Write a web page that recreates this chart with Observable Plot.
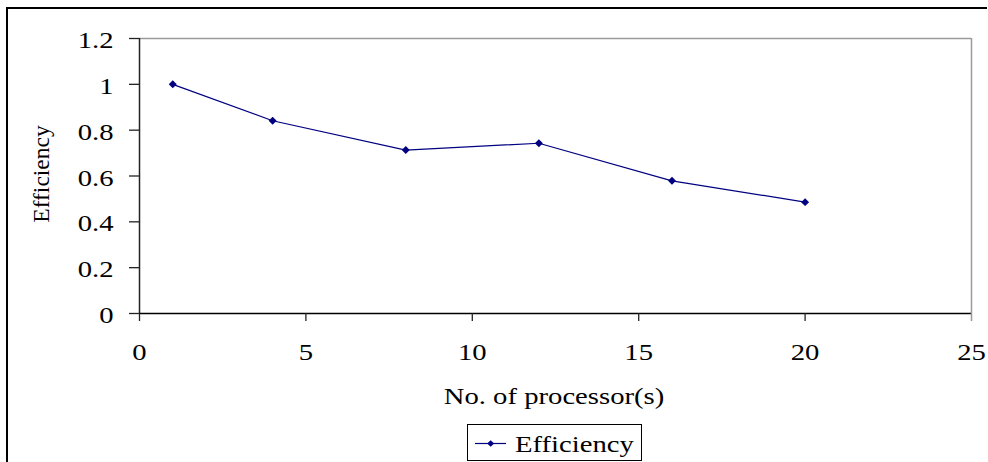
<!DOCTYPE html>
<html>
<head>
<meta charset="utf-8">
<script src="https://cdn.jsdelivr.net/npm/d3@7"></script>
<script src="https://cdn.jsdelivr.net/npm/@observablehq/plot@0.6"></script>
<style>
html, body { margin: 0; padding: 0; background: #fff; }
#wrap { position: relative; width: 988px; height: 462px; overflow: hidden; font-family: "Liberation Serif", "Times New Roman", serif; }
#chart { position: absolute; left: 0; top: 0; }
#outer { position: absolute; left: 6px; top: 7px; width: 979px; height: 470px; border-top: 2px solid #000; border-left: 2px solid #000; pointer-events: none; }
#legend { position: absolute; left: 467px; top: 424px; width: 175px; height: 37px; border: 1px solid #000; box-sizing: border-box; background: #fff; }
#legend svg { position: absolute; left: 0; top: 0; }
#legend span { position: absolute; left: 47px; top: 7.5px; font-size: 23.5px; line-height: 1; color: #000; transform: scaleX(1.22); transform-origin: left center; white-space: nowrap; }
</style>
</head>
<body>
<div id="wrap"><div id="chart"></div><div id="legend"></div><div id="outer"></div></div>
<script>
// ---- data ----
const processors = [1, 4, 8, 12, 16, 20];
const efficiency = [1, 0.841, 0.713, 0.743, 0.579, 0.486];
const xTicks = [0, 5, 10, 15, 20, 25];
const yTicks = [0, 0.2, 0.4, 0.6, 0.8, 1, 1.2];
const xTitle = "No. of processor(s)";
const yTitle = "Efficiency";
const seriesName = "Efficiency";

const navy = "#000080";
const data = processors.map((p, i) => ({p, e: efficiency[i]}));
const fmt = d => String(Math.round(d * 10) / 10);

const chart = Plot.plot({
  width: 988,
  height: 415,
  marginLeft: 139,
  marginRight: 17,
  marginTop: 38,
  marginBottom: 102,
  style: {fontFamily: '"Liberation Serif", "Times New Roman", serif', fontSize: "23.5px", background: "transparent", color: "#000", overflow: "visible"},
  x: {domain: [xTicks[0], xTicks[xTicks.length - 1]]},
  y: {domain: [yTicks[0], yTicks[yTicks.length - 1]]},
  marks: [
    Plot.ruleY([yTicks[yTicks.length - 1]], {stroke: "#9a9a9a", strokeWidth: 1.5}),
    Plot.ruleX([xTicks[xTicks.length - 1]], {stroke: "#9a9a9a", strokeWidth: 1.5}),
    Plot.ruleX([xTicks[0]], {stroke: "#222", strokeWidth: 1.5}),
    Plot.ruleY([yTicks[0]], {stroke: "#000", strokeWidth: 1.3}),
    Plot.axisX({ticks: xTicks.slice(0, -1), tickSize: 8, tickPadding: 21.6, stroke: "#222", strokeWidth: 1.3, tickFormat: fmt, label: null}),
    Plot.axisX({ticks: xTicks.slice(-1), tickSize: 8, tickPadding: 21.6, stroke: "#9a9a9a", strokeWidth: 1.5, tickFormat: fmt, label: null}),
    Plot.axisY({ticks: yTicks, tickSize: 10, fill: "none", stroke: "#222", strokeWidth: 1.3, label: null}),
    Plot.axisY({ticks: yTicks, tickSize: 10, tickPadding: 16, stroke: "none", tickFormat: fmt, dy: 2, label: null}),
    Plot.line(data, {x: "p", y: "e", stroke: navy, strokeWidth: 1.2}),
    Plot.dot(data, {x: "p", y: "e", symbol: "diamond2", r: 3.6, fill: navy, stroke: null}),
    Plot.text([yTitle], {text: d => d, frameAnchor: "left", rotate: -90, textAnchor: "middle", lineAnchor: "bottom", dx: -91, dy: -2}),
    Plot.text([xTitle], {text: d => d, frameAnchor: "bottom", textAnchor: "middle", lineAnchor: "bottom", dx: -1.5, dy: 90})
  ]
});
document.getElementById("chart").appendChild(chart);

// horizontal stretch of the (non-rotated) texts, as in the reference
chart.querySelectorAll("text").forEach(t => {
  const tr = t.getAttribute("transform") || "";
  if (tr.includes("rotate")) return;
  const len = t.getComputedTextLength();
  if (len > 0) {
    t.setAttribute("textLength", (len * 1.22).toFixed(2));
    t.setAttribute("lengthAdjust", "spacingAndGlyphs");
  }
});

// legend
const legend = document.getElementById("legend");
const ns = "http://www.w3.org/2000/svg";
const sw = document.createElementNS(ns, "svg");
sw.setAttribute("width", "44");
sw.setAttribute("height", "35");
const ln = document.createElementNS(ns, "line");
ln.setAttribute("x1", "7"); ln.setAttribute("x2", "38");
ln.setAttribute("y1", "18.5"); ln.setAttribute("y2", "18.5");
ln.setAttribute("stroke", navy); ln.setAttribute("stroke-width", "1.2");
sw.appendChild(ln);
const mk = document.createElementNS(ns, "path");
mk.setAttribute("d", "M22.7,15.2L26.2,18.5L22.7,21.8L19.2,18.5Z");
mk.setAttribute("fill", navy);
sw.appendChild(mk);
legend.appendChild(sw);
const sp = document.createElement("span");
sp.textContent = seriesName;
legend.appendChild(sp);
</script>
</body>
</html>
